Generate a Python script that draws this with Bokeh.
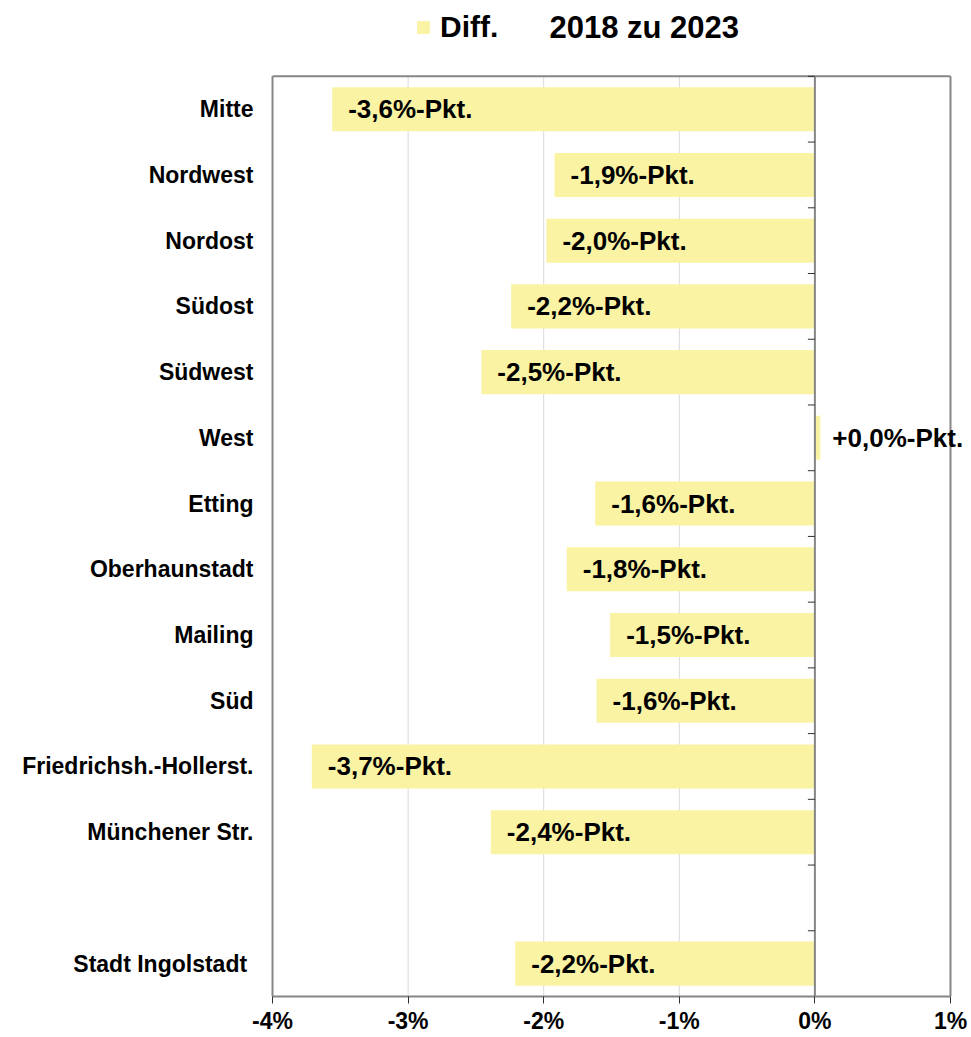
from bokeh.plotting import figure
from bokeh.models import (ColumnDataSource, Range1d, FixedTicker, LabelSet,
                          Label, Legend, LegendItem)
from bokeh.core.properties import value
from bokeh.embed import file_html
from bokeh.resources import INLINE

# ---------------- data ----------------
categories = ["Mitte", "Nordwest", "Nordost", "Südost", "Südwest", "West", "Etting",
              "Oberhaunstadt", "Mailing", "Süd", "Friedrichsh.-Hollerst.",
              "Münchener Str.", "", "Stadt Ingolstadt\u00a0"]
diff_values = [-3.56, -1.92, -1.98, -2.24, -2.46, 0.04, -1.62, -1.83, -1.51, -1.61,
               -3.71, -2.39, None, -2.21]
bar_labels = ["-3,6%-Pkt.", "-1,9%-Pkt.", "-2,0%-Pkt.", "-2,2%-Pkt.", "-2,5%-Pkt.",
              "+0,0%-Pkt.", "-1,6%-Pkt.", "-1,8%-Pkt.", "-1,5%-Pkt.", "-1,6%-Pkt.",
              "-3,7%-Pkt.", "-2,4%-Pkt.", "", "-2,2%-Pkt."]
x_ticks = [-4, -3, -2, -1, 0, 1]
x_tick_labels = ["-4%", "-3%", "-2%", "-1%", "0%", "1%"]
legend_label = "Diff."
title_text = "2018 zu 2023"

# ---------------- layout / style ----------------
FONT = "Liberation Sans"
BAR_COLOR = "#FAF3A3"
FRAME_COLOR = "#868686"
GRID_COLOR = "#D9D9D9"
TICK_COLOR = "#303030"

W, H = 970, 1036
PLOT_LEFT, PLOT_RIGHT = 272, 950      # visible box (canvas px)
PLOT_TOP, PLOT_BOTTOM = 76, 998
PAD_L, PAD_R = 3, 15                  # frame extends a little beyond the box

n = len(categories)
xmin, xmax = x_ticks[0], x_ticks[-1]
ppu = (PLOT_RIGHT - PLOT_LEFT) / (xmax - xmin)
slot = (PLOT_BOTTOM - PLOT_TOP) / n
y_lo, y_hi = -0.5, n - 0.5

idx = [i for i, v in enumerate(diff_values) if v is not None]
src = ColumnDataSource(dict(
    y=idx,
    right=[diff_values[i] for i in idx],
    label=[bar_labels[i] for i in idx],
    xoff=[16 if diff_values[i] < 0 else 12 for i in idx],
))

p = figure(width=W, height=H, output_backend="svg", toolbar_location=None,
           x_range=Range1d(xmin - PAD_L / ppu, xmax + PAD_R / ppu),
           y_range=Range1d(y_hi, y_lo - PLOT_TOP / slot),
           min_border_left=PLOT_LEFT - PAD_L, min_border_right=W - PLOT_RIGHT - PAD_R,
           min_border_top=0, min_border_bottom=H - PLOT_BOTTOM)
p.background_fill_color = "white"
p.border_fill_color = "white"
p.outline_line_color = None
p.xgrid.grid_line_color = None
p.ygrid.grid_line_color = None

# vertical grid lines (inside the box only)
inner = [t for t in x_ticks if t not in (xmin, xmax, 0)]
p.segment(x0=inner, x1=inner, y0=[y_lo] * len(inner), y1=[y_hi] * len(inner),
          line_color=GRID_COLOR, line_width=1)

bars = p.hbar(y="y", left=0, right="right", height=0.67, source=src,
              fill_color=BAR_COLOR, line_color=None)

# box border (left, right, top) and zero line
p.segment(x0=[xmin, xmax, xmin, 0], x1=[xmin, xmax, xmax, 0],
          y0=[y_lo, y_lo, y_lo, y_lo], y1=[y_hi, y_hi, y_lo, y_hi],
          line_color=FRAME_COLOR, line_width=2)

# category tick marks on the zero line
tick_len = 7 / ppu
bounds = [i - 0.5 for i in range(n)]
p.segment(x0=[-tick_len] * len(bounds), x1=[0] * len(bounds), y0=bounds, y1=bounds,
          line_color=TICK_COLOR, line_width=1)

# x axis (bottom border)
p.xaxis.ticker = FixedTicker(ticks=x_ticks)
p.xaxis.bounds = (xmin, xmax)
p.xaxis.major_label_overrides = {t: l for t, l in zip(x_ticks, x_tick_labels)}
p.xaxis.axis_line_color = FRAME_COLOR
p.xaxis.axis_line_width = 2
p.xaxis.major_tick_out = 7
p.xaxis.major_tick_in = 0
p.xaxis.major_tick_line_color = TICK_COLOR
p.xaxis.minor_tick_line_color = None
p.xaxis.major_label_standoff = 4
p.xaxis.major_label_text_font = FONT
p.xaxis.major_label_text_font_size = "23px"
p.xaxis.major_label_text_font_style = "bold"
p.xaxis.major_label_text_color = "black"

# y axis (category names)
yt = [i for i in range(n) if categories[i] != ""]
p.yaxis.ticker = FixedTicker(ticks=yt)
p.yaxis.major_label_overrides = {i: categories[i] for i in yt}
p.yaxis.axis_line_color = None
p.yaxis.major_tick_line_color = None
p.yaxis.minor_tick_line_color = None
p.yaxis.major_tick_out = 0
p.yaxis.major_tick_in = 0
p.yaxis.major_label_standoff = 16
p.yaxis.major_label_text_font = FONT
p.yaxis.major_label_text_font_size = "23px"
p.yaxis.major_label_text_font_style = "bold"
p.yaxis.major_label_text_color = "black"

# value labels
labels = LabelSet(x="right", y="y", text="label", x_offset="xoff", source=src,
                  text_font=value(FONT), text_font_size=value("26px"),
                  text_font_style=value("bold"), text_color=value("black"),
                  text_baseline=value("middle"), text_align=value("left"))
p.add_layout(labels)

# legend (header)
legend = Legend(items=[LegendItem(label=legend_label, renderers=[bars])],
                location=(415 - (PLOT_LEFT - PAD_L), PLOT_BOTTOM - 46),
                orientation="horizontal",
                glyph_width=16, glyph_height=16, label_standoff=9,
                label_text_font=FONT, label_text_font_size="30px",
                label_text_font_style="bold", label_text_color="black",
                background_fill_alpha=0, border_line_color=None,
                padding=0, margin=0, spacing=0)
p.add_layout(legend, "center")

# header title text
p.add_layout(Label(x=xmin + (549 - PLOT_LEFT) / ppu, y=y_lo - (PLOT_TOP - 27) / slot,
                   text=title_text, text_font=FONT,
                   text_font_size="31px", text_font_style="bold", text_color="black",
                   text_baseline="alphabetic", text_align="left"))

open("out.html", "w").write(file_html(p, INLINE))
